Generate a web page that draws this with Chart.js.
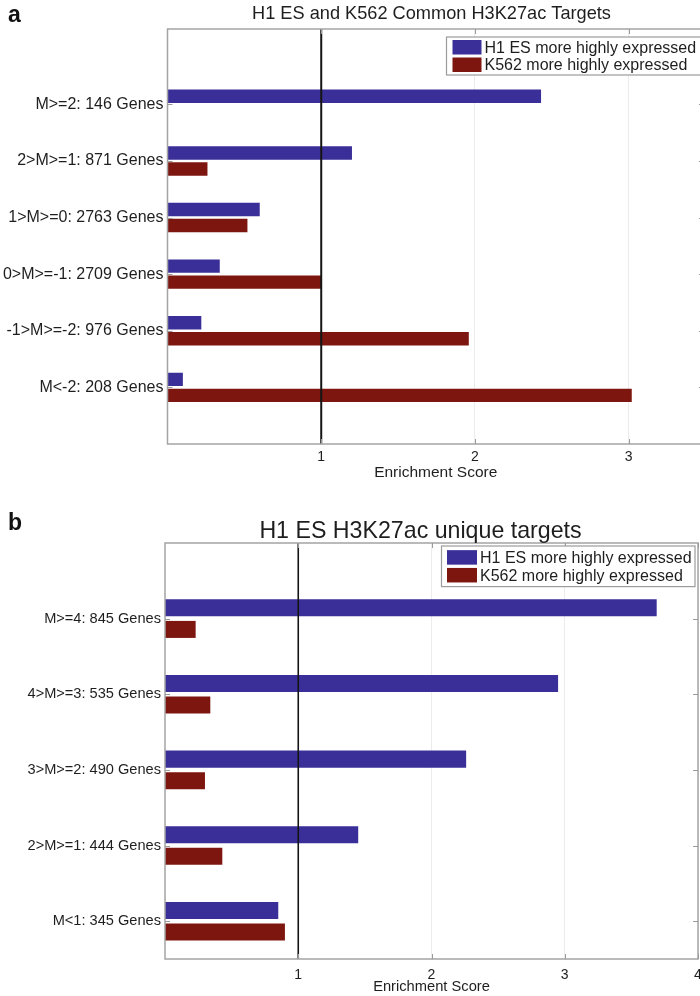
<!DOCTYPE html>
<html><head><meta charset="utf-8">
<script src="https://cdn.jsdelivr.net/npm/chart.js@4.4.1/dist/chart.umd.min.js"></script>
<style>
html,body{margin:0;padding:0;background:#fff;overflow:hidden;}
#wrap{position:relative;width:700px;height:996px;overflow:hidden;background:#fff;}
.panel{position:absolute;left:0;}
.tag{position:absolute;left:8px;font:bold 23px "Liberation Sans",Arial,sans-serif;color:#111;line-height:1;}
</style></head><body>
<div id="wrap">
<div class="panel" style="top:0px"><canvas id="ca" width="720" height="490"></canvas></div>
<div class="panel" style="top:496px"><canvas id="cb" width="720" height="500"></canvas></div>
<div class="tag" style="top:3px">a</div>
<div class="tag" style="top:511px">b</div>
</div>
<script>
// ---------- data ----------
const seriesNames = ['H1 ES more highly expressed', 'K562 more highly expressed'];

const categoriesA = ['M>=2: 146 Genes', '2>M>=1: 871 Genes', '1>M>=0: 2763 Genes',
                     '0>M>=-1: 2709 Genes', '-1>M>=-2: 976 Genes', 'M<-2: 208 Genes'];
const h1A   = [2.43, 1.20, 0.60, 0.34, 0.22, 0.10];
const k562A = [0.00, 0.26, 0.52, 1.00, 1.96, 3.02];
const xTicksA = [1, 2, 3];

const categoriesB = ['M>=4: 845 Genes', '4>M>=3: 535 Genes', '3>M>=2: 490 Genes',
                     '2>M>=1: 444 Genes', 'M<1: 345 Genes'];
const h1B   = [3.69, 2.95, 2.26, 1.45, 0.85];
const k562B = [0.23, 0.34, 0.30, 0.43, 0.90];
const xTicksB = [1, 2, 3, 4];

const refValue = 1;
// --------------------------

const FONT = '"Liberation Sans", Arial, Helvetica, sans-serif';
const BLUE = '#3a2f98';
const RED = '#7e1610';
const TXT = '#1e1e1e';

const framePlugin = {
  id: 'frame',
  afterDatasetsDraw(chart, args, o) {
    const {ctx, chartArea: ca, scales} = chart;
    const xs = scales.x, ys = scales.y;
    ctx.save();
    // reference line
    const xr = xs.getPixelForValue(refValue);
    ctx.strokeStyle = '#151515';
    ctx.lineWidth = o.refWidth;
    ctx.beginPath(); ctx.moveTo(xr, ca.top); ctx.lineTo(xr, ca.bottom); ctx.stroke();
    // frame
    ctx.strokeStyle = '#a4a4a4';
    ctx.lineWidth = 1.5;
    ctx.strokeRect(ca.left, ca.top, ca.right - ca.left, ca.bottom - ca.top);
    // inward ticks
    ctx.lineWidth = 1;
    ctx.strokeStyle = '#9a9a9a';
    ctx.beginPath();
    xs.ticks.forEach(t => {
      const px = Math.round(xs.getPixelForValue(t.value)) + 0.5;
      ctx.moveTo(px, ca.bottom); ctx.lineTo(px, ca.bottom - 5);
      ctx.moveTo(px, ca.top); ctx.lineTo(px, ca.top + 5);
    });
    ys.ticks.forEach(t => {
      const py = Math.round(ys.getPixelForValue(t.value)) + 0.5;
      ctx.moveTo(ca.left, py); ctx.lineTo(ca.left + 5, py);
      ctx.moveTo(ca.right, py); ctx.lineTo(ca.right - 5, py);
    });
    ctx.stroke();
    // legend box
    const L = o.legend;
    const dsets = chart.data.datasets;
    const h = L.pad * 2 + L.rowH * dsets.length;
    ctx.fillStyle = '#fff';
    ctx.fillRect(L.left, L.top, L.right - L.left, h);
    ctx.strokeStyle = '#9c9c9c';
    ctx.lineWidth = 1.2;
    ctx.strokeRect(L.left, L.top, L.right - L.left, h);
    ctx.font = L.size + 'px ' + FONT;
    ctx.textBaseline = 'middle';
    ctx.textAlign = 'left';
    dsets.forEach((d, i) => {
      const cy = L.top + L.pad + L.rowH * i + L.rowH / 2;
      ctx.fillStyle = d.backgroundColor;
      ctx.fillRect(L.left + L.patchX, cy - L.patchH / 2, L.patchW, L.patchH);
      ctx.fillStyle = TXT;
      ctx.fillText(d.label, L.left + L.patchX + L.patchW + L.gap, cy + 1);
    });
    ctx.restore();
  },
  afterDraw(chart, args, o) {
    const ctx = chart.ctx;
    ctx.save();
    ctx.font = o.titleSize + 'px ' + FONT;
    ctx.fillStyle = TXT;
    ctx.textAlign = 'center';
    ctx.textBaseline = 'middle';
    ctx.fillText(o.title, o.titleX, o.titleY);
    ctx.restore();
  }
};

function makeChart(id, cats, s1, s2, xTicks, o) {
  const positions = cats.map((c, i) => i + 1);
  return new Chart(document.getElementById(id), {
    type: 'bar',
    data: {
      datasets: [
        {label: seriesNames[0], data: positions.map((p, i) => ({x: s1[i], y: p})),
         backgroundColor: BLUE, categoryPercentage: o.cp, barPercentage: o.bp},
        {label: seriesNames[1], data: positions.map((p, i) => ({x: s2[i], y: p})),
         backgroundColor: RED, categoryPercentage: o.cp, barPercentage: o.bp}
      ]
    },
    options: {
      indexAxis: 'y',
      responsive: false,
      animation: false,
      layout: {padding: {left: 0, right: o.padRight, top: o.padTop, bottom: 0}},
      plugins: {
        legend: {display: false},
        tooltip: {enabled: false},
        title: {display: false},
        frame: {refWidth: o.refWidth, legend: o.legend, title: o.title,
                titleSize: o.titleSize, titleX: o.titleX, titleY: o.titleY}
      },
      scales: {
        x: {
          type: 'linear', min: 0, max: o.xMax, offset: false,
          grid: {color: '#ececec', drawTicks: false, lineWidth: 1},
          border: {display: false},
          afterBuildTicks: s => { s.ticks = xTicks.map(v => ({value: v})); },
          afterFit: s => { s.height = o.xHeight; },
          ticks: {color: TXT, font: {family: FONT, size: o.tickSize}, padding: o.tickPad,
                  maxRotation: 0, autoSkip: false, callback: v => String(v)},
          title: {display: true, text: 'Enrichment Score', color: TXT,
                  font: {family: FONT, size: o.xTitleSize, lineHeight: 1.2},
                  padding: {top: 0, bottom: o.xTitleBottom}}
        },
        y: {
          type: 'linear', reverse: true, min: o.yMin, max: o.yMax, offset: false,
          grid: {display: false, drawTicks: false},
          border: {display: false},
          afterBuildTicks: s => { s.ticks = positions.map(v => ({value: v})); },
          afterFit: s => { s.width = o.yWidth; },
          ticks: {color: TXT, font: {family: FONT, size: o.labelSize}, padding: 4,
                  autoSkip: false, callback: v => cats[v - 1]}
        }
      }
    },
    plugins: [framePlugin]
  });
}

makeChart('ca', categoriesA, h1A, k562A, xTicksA, {
  title: 'H1 ES and K562 Common H3K27ac Targets', titleSize: 18.2, titleX: 431.5, titleY: 13.5,
  padTop: 29,
  xMax: 3.49, yMin: -0.33, yMax: 7.0, padRight: 16, yWidth: 167.5,
  xHeight: 46, tickSize: 14, tickPad: 5, xTitleSize: 15.5, xTitleBottom: 7.5,
  labelSize: 16, cp: 0.565, bp: 0.84, refWidth: 2,
  legend: {left: 446.5, top: 37, right: 703, pad: 1.5, rowH: 17.5, patchX: 6, patchW: 29, patchH: 14.5, gap: 3, size: 16}
});

makeChart('cb', categoriesB, h1B, k562B, xTicksB, {
  title: 'H1 ES H3K27ac unique targets', titleSize: 23.2, titleX: 420.5, titleY: 36,
  padTop: 47,
  xMax: 4, yMin: 0, yMax: 5.5, padRight: 22, yWidth: 165,
  xHeight: 37, tickSize: 14, tickPad: 8, xTitleSize: 14.7, xTitleBottom: 0,
  labelSize: 14.6, cp: 0.57, bp: 0.79, refWidth: 1.6,
  legend: {left: 441.5, top: 50, right: 695, pad: 2.5, rowH: 17.8, patchX: 5.5, patchW: 30, patchH: 14.5, gap: 3, size: 16}
});
</script>
</body></html>
